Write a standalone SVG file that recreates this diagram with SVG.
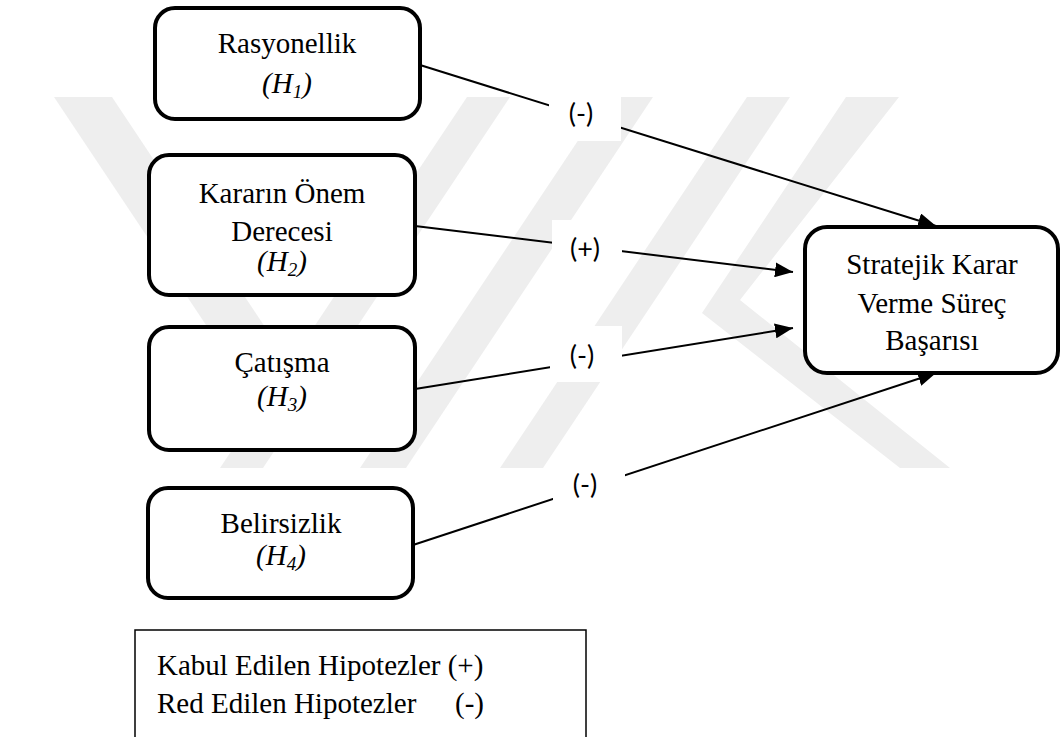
<svg xmlns="http://www.w3.org/2000/svg" width="1060" height="737" viewBox="0 0 1060 737">
  <style>
    .box { fill: #ffffff; stroke: #000000; stroke-width: 4; }
    .txt { font-family: "Liberation Serif", "Times New Roman", serif; font-size: 29px; fill: #000000; text-anchor: middle; }
    .leg { font-family: "Liberation Serif", "Times New Roman", serif; font-size: 29px; fill: #000000; }
    .it { font-style: italic; }
    .edge { stroke: #000000; stroke-width: 2; fill: none; marker-end: url(#arrow); }
    .lblbg { fill: #ffffff; }
    .lbl { font-family: "Lato", "Open Sans", sans-serif; font-size: 27px; fill: #000000; text-anchor: middle; }
    .wm { fill: #eeeeee; }
  </style>
  <defs>
    <marker id="arrow" viewBox="0 0 18 15" refX="18" refY="7.5" markerWidth="18" markerHeight="15" markerUnits="userSpaceOnUse" orient="auto">
      <path d="M0,0 L18,7.5 L0,15 Z" fill="#000000"/>
    </marker>
  </defs>

  <rect width="1060" height="737" fill="#ffffff"/>

  <!-- background emblem: light diagonal bands -->
  <g id="emblem">
    <polygon class="wm" points="54,97 112,97 289,363 260,406"/>
    <polygon class="wm" points="467,97 510,97 263,468 220,468"/>
    <polygon class="wm" points="607,97 653,97 406,468 360,468"/>
    <polygon class="wm" points="747,97 790,97 543,468 500,468"/>
    <polygon class="wm" points="846,97 899,97 740,300 950,468 900,468 702,313"/>
  </g>

  <!-- connectors -->
  <g id="connectors">
    <line class="edge" x1="420" y1="65" x2="936" y2="226"/>
    <line class="edge" x1="415" y1="226" x2="793" y2="272"/>
    <line class="edge" x1="415" y1="389" x2="793" y2="328"/>
    <line class="edge" x1="413" y1="545" x2="936" y2="373"/>
    <g id="label-h1">
      <rect class="lblbg" x="549" y="97" width="72" height="44"/>
      <text class="lbl" x="581" y="123">(-)</text>
    </g>
    <g id="label-h2">
      <rect class="lblbg" x="552" y="220" width="70" height="55"/>
      <text class="lbl" x="585" y="258">(+)</text>
    </g>
    <g id="label-h3">
      <rect class="lblbg" x="550" y="326" width="72" height="56"/>
      <text class="lbl" x="582" y="365">(-)</text>
    </g>
    <g id="label-h4">
      <rect class="lblbg" x="553" y="455" width="72" height="55"/>
      <text class="lbl" x="585" y="494">(-)</text>
    </g>
  </g>

  <g id="node-h1">
    <rect class="box" x="155" y="8" width="265" height="111" rx="20"/>
    <text class="txt" x="287" y="53">Rasyonellik</text>
    <text class="txt it" x="287" y="93">(H<tspan font-size="19" dy="5">1</tspan><tspan dy="-5">)</tspan></text>
  </g>

  <g id="node-h2">
    <rect class="box" x="149" y="155" width="266" height="140" rx="20"/>
    <text class="txt" x="282" y="203">Kararın Önem</text>
    <text class="txt" x="282" y="241">Derecesi</text>
    <text class="txt it" x="282" y="271">(H<tspan font-size="19" dy="5">2</tspan><tspan dy="-5">)</tspan></text>
  </g>

  <g id="node-h3">
    <rect class="box" x="149" y="327" width="266" height="123" rx="20"/>
    <text class="txt" x="282" y="372">Çatışma</text>
    <text class="txt it" x="282" y="406">(H<tspan font-size="19" dy="5">3</tspan><tspan dy="-5">)</tspan></text>
  </g>

  <g id="node-h4">
    <rect class="box" x="148" y="488" width="265" height="110" rx="20"/>
    <text class="txt" x="281" y="533">Belirsizlik</text>
    <text class="txt it" x="281" y="565">(H<tspan font-size="19" dy="5">4</tspan><tspan dy="-5">)</tspan></text>
  </g>

  <g id="node-outcome">
    <rect class="box" x="805" y="227" width="253" height="146" rx="22"/>
    <text class="txt" x="932" y="274">Stratejik Karar</text>
    <text class="txt" x="932" y="313">Verme Süreç</text>
    <text class="txt" x="932" y="350">Başarısı</text>
  </g>

  <g id="legend">
    <rect x="135" y="630" width="451" height="115" fill="#ffffff" stroke="#000000" stroke-width="1.5"/>
    <text class="leg" x="157" y="675">Kabul Edilen Hipotezler (+)</text>
    <text class="leg" x="157" y="713">Red Edilen Hipotezler<tspan x="455">(-)</tspan></text>
  </g>
</svg>
